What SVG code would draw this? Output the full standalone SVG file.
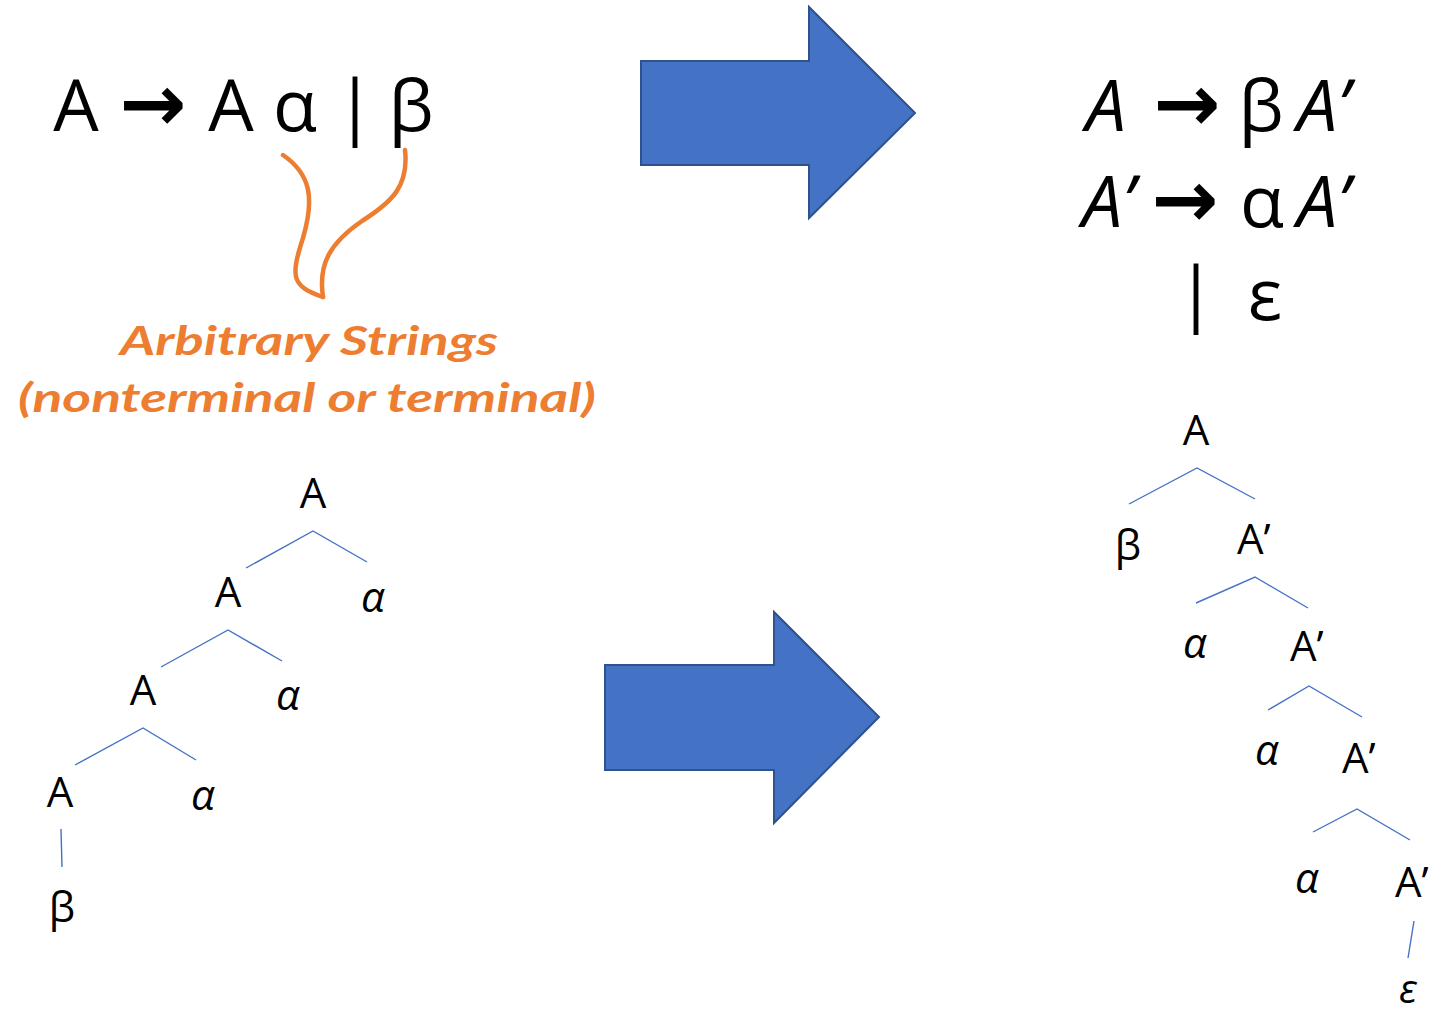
<svg xmlns="http://www.w3.org/2000/svg" width="1429" height="1016" viewBox="0 0 1429 1016">
<style>
.f{font-family:"Open Sans","Noto Sans","DejaVu Sans",sans-serif;fill:#000}
.big{font-size:72px}
.arr{font-family:"DejaVu Sans","Noto Sans",sans-serif;font-size:80px;font-weight:bold}
.i{font-style:italic}
.t{font-size:42px;text-anchor:middle}
.or{font-family:"Lato","Open Sans",sans-serif;font-style:italic;font-weight:bold;font-size:40px;fill:#ED7D31}
.edge{stroke:#4472C4;stroke-width:1.4;fill:none}
.curl{stroke:#ED7D31;stroke-width:4.5;fill:none;stroke-linecap:round}
.blk{fill:#4472C4;stroke:#2F528F;stroke-width:2}
</style>
<rect width="1429" height="1016" fill="#fff"/>

<g id="formula-left" class="f big" text-anchor="middle">
<text x="76" y="131">A</text>
<text class="arr" x="153" y="131">→</text>
<text x="231" y="131">A</text>
<text x="295" y="131">α</text>
<text x="355" y="131">|</text>
<text x="411" y="131">β</text>
</g>

<g id="formula-right" class="f big">
<text class="i" x="1106" y="131" text-anchor="middle">A</text>
<text class="arr" x="1187" y="131" text-anchor="middle">→</text>
<text x="1261" y="131" text-anchor="middle">β</text>
<text class="i" x="1297" y="131">A’</text>
<text class="i" x="1082" y="227">A’</text>
<text class="arr" x="1185" y="227" text-anchor="middle">→</text>
<text x="1262" y="227" text-anchor="middle">α</text>
<text class="i" x="1297" y="227">A’</text>
<text x="1196" y="318" text-anchor="middle">|</text>
<text x="1265" y="320" text-anchor="middle">ε</text>
</g>

<g id="arrow-top"><path class="blk" d="M641,61 H809 V7 L915,113 L809,218 V165 H641 Z"/></g>
<g id="arrow-bottom"><path class="blk" d="M605,665 H774 V612 L879,717 L774,823 V770 H605 Z"/></g>

<g id="annotation">
<path class="curl" d="M283,155 C312,175 314,200 303,238 C290,278 292,286 323,297"/>
<path class="curl" d="M405,150 C409,186 392,202 362,221 C330,243 318,264 323,297"/>
<text class="or" x="309" y="355" text-anchor="middle" textLength="378" lengthAdjust="spacingAndGlyphs">Arbitrary Strings</text>
<text class="or" x="307" y="412" text-anchor="middle" textLength="578" lengthAdjust="spacingAndGlyphs">(nonterminal or terminal)</text>
</g>

<g id="connectors">
<path class="edge" d="M246,568 L313,531 L367,562"/>
<path class="edge" d="M161,667 L228,630 L282,661"/>
<path class="edge" d="M75,765 L143,728 L196,760"/>
<path class="edge" d="M61,829 L62,867"/>
<path class="edge" d="M1129,504 L1197,468 L1255,499"/>
<path class="edge" d="M1196,603 L1255,577 L1308,608"/>
<path class="edge" d="M1268,710 L1309,686 L1362,717"/>
<path class="edge" d="M1313,832 L1357,809 L1410,840"/>
<path class="edge" d="M1414,921 L1408,958"/>
</g>

<g id="left-tree" class="f t">
<text id="l-a1" x="313" y="508">A</text>
<text id="l-a2" x="228" y="607">A</text>
<text id="l-al1" class="i" x="373" y="612">α</text>
<text id="l-a3" x="143" y="705">A</text>
<text id="l-al2" class="i" x="288" y="710">α</text>
<text id="l-a4" x="60" y="807">A</text>
<text id="l-al3" class="i" x="203" y="810">α</text>
<text id="l-b" x="62" y="922">β</text>
</g>

<g id="right-tree" class="f t">
<text id="r-a" x="1196" y="445">A</text>
<text id="r-b" x="1128" y="560">β</text>
<text id="r-p1" x="1237" y="554" text-anchor="start">A’</text>
<text id="r-al1" class="i" x="1195" y="658">α</text>
<text id="r-p2" x="1290" y="661" text-anchor="start">A’</text>
<text id="r-al2" class="i" x="1267" y="765">α</text>
<text id="r-p3" x="1342" y="773" text-anchor="start">A’</text>
<text id="r-al3" class="i" x="1307" y="893">α</text>
<text id="r-p4" x="1395" y="897" text-anchor="start">A’</text>
<text id="r-e" class="i" x="1408" y="1003" style="font-size:40px">ε</text>
</g>
</svg>
